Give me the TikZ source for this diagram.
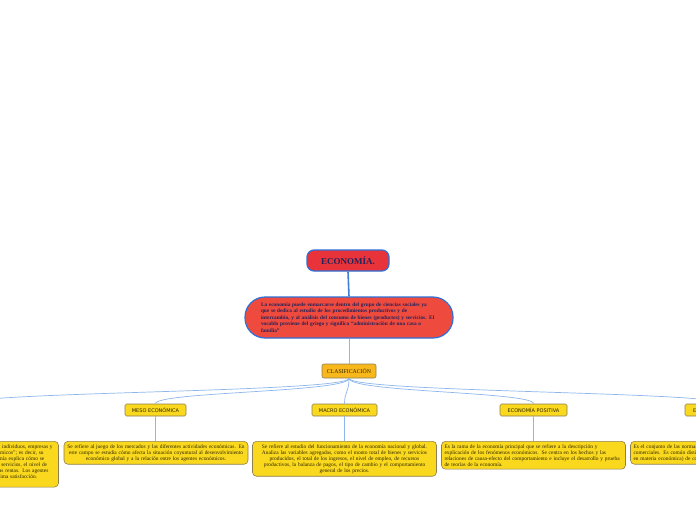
\documentclass[tikz,border=0pt]{standalone}
\usepackage{fontspec}
\setmainfont{Liberation Serif}
\newfontfamily\labelfont{DejaVu Sans}
\usetikzlibrary{calc}
\definecolor{titlered}{HTML}{E8333B}
\definecolor{descred}{HTML}{EE4A3D}
\definecolor{bordblue}{HTML}{2E6FD8}
\definecolor{navy}{HTML}{23235A}
\definecolor{clasorange}{HTML}{F8B71A}
\definecolor{yel}{HTML}{FAD81E}
\definecolor{yelborder}{HTML}{8E8050}
\definecolor{linkblue}{HTML}{8DB6EC}
\definecolor{darktext}{HTML}{2E2600}
\tikzset{
  titlebox/.style={draw=bordblue, line width=1.2pt, fill=titlered, rounded corners=7pt,
    minimum width=82pt, minimum height=21pt, inner sep=1pt,
    font=\fontsize{9}{10}\selectfont\bfseries, text=navy},
  descbox/.style={draw=bordblue, line width=1.2pt, fill=descred, rounded corners=20pt,
    minimum width=208pt, minimum height=41pt, text width=176pt, align=left, inner sep=2pt,
    font=\fontsize{5.3}{6.5}\selectfont\bfseries, text=navy},
  clasbox/.style={draw=yelborder!80!gray, line width=0.6pt, fill=clasorange, rounded corners=2pt,
    minimum width=54pt, minimum height=14pt, inner sep=1pt,
    font=\fontsize{5.8}{6.5}\selectfont, text=darktext},
  catlabel/.style={draw=yelborder, line width=0.6pt, fill=yel, rounded corners=1.5pt,
    minimum height=12pt, inner sep=1pt,
    font=\labelfont\fontsize{5}{5.5}\selectfont, text=darktext},
  infobox/.style={draw=yelborder, line width=0.6pt, fill=yel, rounded corners=4pt,
    anchor=north, text width=178pt, minimum width=184pt, inner xsep=3pt, inner ysep=3pt,
    font=\fontsize{5.4}{6}\selectfont, text=darktext},
  mainlink/.style={draw=bordblue!90!white, line width=1.6pt},
  link/.style={draw=linkblue, line width=0.7pt},
}
\begin{document}
\begin{tikzpicture}[x=1pt,y=-1pt]
\useasboundingbox (0,0) rectangle (696,520);
\clip (0,0) rectangle (696,520);
\fill[white] (0,0) rectangle (696,520);

\node[titlebox] (eco) at (348,260.5) {ECONOMÍA.};
\node[descbox] (desc) at (349,317.5) {La economía puede enmarcarse dentro del grupo de ciencias sociales ya\\
que se dedica al estudio de los procedimientos productivos y de\\
intercambio, y al análisis del consumo de bienes (productos) y servicios. El\\
vocablo proviene del griego y significa “administración de una casa o\\
familia”};
\node[clasbox] (clas) at (349,371) {CLASIFICACIÓN};

\node[catlabel, minimum width=65pt] (micro) at (-33.5,410) {MICRO ECONÓMICA};
\node[catlabel, minimum width=61pt] (meso) at (155.5,410) {MESO ECONÓMICA};
\node[catlabel, minimum width=65pt] (macro) at (344.5,410) {MACRO ECONÓMICA};
\node[catlabel, minimum width=67pt] (posit) at (533.5,410) {ECONOMÍA POSITIVA};
\node[catlabel, minimum width=75pt] (norm) at (722.5,410) {ECONOMÍA NORMATIVA};

\node[infobox, align=center] (microtxt) at (-33.5,441) {Estudia el comportamiento económico de los agentes: individuos, empresas y\\
hogares y consumidores, llamados “agentes económicos”; es decir, su\\
comportamiento en los mercados. La microeconomía explica cómo se\\
determinan los precios y las cantidades de bienes y servicios, el nivel de\\
producción, el uso de factores y la distribución de las rentas. Los agentes\\
económicos toman decisiones buscando la máxima satisfacción.\\
\mbox{}};
\node[infobox, align=center] (mesotxt) at (156,441) {Se refiere al juego de los mercados y las diferentes actividades económicas. En\\
este campo se estudia cómo afecta la situación coyuntural al desenvolvimiento\\
económico global y a la relación entre los agentes económicos.};
\node[infobox, align=center] (macrotxt) at (344.5,441) {Se refiere al estudio del funcionamiento de la economía nacional y global.\\
Analiza las variables agregadas, como el monto total de bienes y servicios\\
producidos, el total de los ingresos, el nivel de empleo, de recursos\\
productivos, la balanza de pagos, el tipo de cambio y el comportamiento\\
general de los precios.};
\node[infobox, align=left] (posittxt) at (533.5,441) {Es la rama de la economía principal que se refiere a la descripción y\\
explicación de los fenómenos económicos. Se centra en los hechos y las\\
relaciones de causa-efecto del comportamiento e incluye el desarrollo y prueba\\
de teorías de la economía.};
\node[infobox, align=left] (normtxt) at (722.5,441) {Es el conjunto de las normas y leyes que regulan las actividades\\
comerciales. Es común distinguir entre políticas (recomendaciones\\
en materia económica) de corto y largo plazo.};

\draw[mainlink] (eco.south) -- (desc.north);
\draw[link] (desc.south) -- (clas.north);
\foreach \c in {micro,meso,macro,posit,norm}{
  \draw[link] (clas.south) .. controls ($(clas.south)+(0,14)$) and ($(\c.north)+(0,-12)$) .. (\c.north);
}
\draw[link] (micro.south) -- (micro.south |- microtxt.north);
\draw[link] (meso.south) -- (meso.south |- mesotxt.north);
\draw[link] (macro.south) -- (macro.south |- macrotxt.north);
\draw[link] (posit.south) -- (posit.south |- posittxt.north);
\draw[link] (norm.south) -- (norm.south |- normtxt.north);
\end{tikzpicture}
\end{document}
